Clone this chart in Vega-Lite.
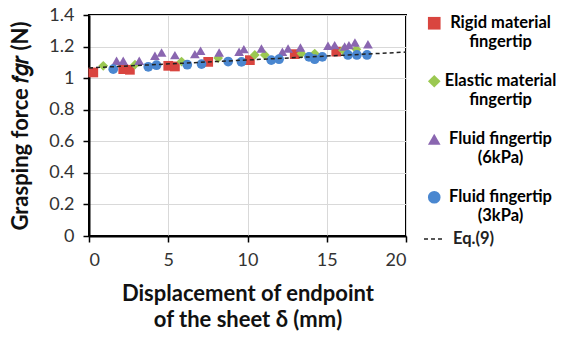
{
  "$schema": "https://vega.github.io/schema/vega-lite/v6.json",
  "width": 317,
  "height": 221,
  "autosize": {"type": "none"},
  "padding": {"left": 89, "top": 15, "right": 173, "bottom": 103},
  "background": "white",
  "config": {
    "font": "Lato",
    "view": {"stroke": "black", "strokeWidth": 2},
    "axis": {
      "domainColor": "black", "domainWidth": 2, "grid": true,
      "tickColor": "black", "tickWidth": 1.5, "tickSize": 6,
      "gridColor": "#d9d9d9", "gridWidth": 1, "labelOverlap": false,
      "labelFont": "Lato", "labelFontSize": 18, "labelColor": "#333",
      "titleFont": "Lato", "titleFontSize": 22, "titleFontWeight": "bold", "titleColor": "#111"
    }
  },
  "data": {"values": [
    {"s": "Rigid", "x": 0.27, "y": 1.036},
    {"s": "Rigid", "x": 2.16, "y": 1.057},
    {"s": "Rigid", "x": 2.58, "y": 1.053},
    {"s": "Rigid", "x": 5.0, "y": 1.078},
    {"s": "Rigid", "x": 5.42, "y": 1.074},
    {"s": "Rigid", "x": 7.52, "y": 1.103},
    {"s": "Rigid", "x": 10.15, "y": 1.114},
    {"s": "Rigid", "x": 12.98, "y": 1.152},
    {"s": "Rigid", "x": 15.6, "y": 1.168},
    {"s": "Elastic", "x": 0.9, "y": 1.078},
    {"s": "Elastic", "x": 2.9, "y": 1.085},
    {"s": "Elastic", "x": 5.84, "y": 1.105},
    {"s": "Elastic", "x": 8.15, "y": 1.127},
    {"s": "Elastic", "x": 10.46, "y": 1.147},
    {"s": "Elastic", "x": 11.09, "y": 1.147},
    {"s": "Elastic", "x": 13.4, "y": 1.156},
    {"s": "Elastic", "x": 14.24, "y": 1.156},
    {"s": "Elastic", "x": 16.02, "y": 1.177},
    {"s": "Elastic", "x": 16.87, "y": 1.183},
    {"s": "Fluid6", "x": 1.74, "y": 1.11},
    {"s": "Fluid6", "x": 2.16, "y": 1.11},
    {"s": "Fluid6", "x": 3.17, "y": 1.11},
    {"s": "Fluid6", "x": 4.16, "y": 1.142},
    {"s": "Fluid6", "x": 4.58, "y": 1.163},
    {"s": "Fluid6", "x": 5.42, "y": 1.146},
    {"s": "Fluid6", "x": 6.68, "y": 1.152},
    {"s": "Fluid6", "x": 7.04, "y": 1.173},
    {"s": "Fluid6", "x": 8.21, "y": 1.163},
    {"s": "Fluid6", "x": 9.47, "y": 1.167},
    {"s": "Fluid6", "x": 9.77, "y": 1.184},
    {"s": "Fluid6", "x": 10.88, "y": 1.188},
    {"s": "Fluid6", "x": 12.2, "y": 1.167},
    {"s": "Fluid6", "x": 12.56, "y": 1.188},
    {"s": "Fluid6", "x": 13.34, "y": 1.194},
    {"s": "Fluid6", "x": 15.08, "y": 1.205},
    {"s": "Fluid6", "x": 15.5, "y": 1.209},
    {"s": "Fluid6", "x": 16.13, "y": 1.2},
    {"s": "Fluid6", "x": 16.4, "y": 1.209},
    {"s": "Fluid6", "x": 16.78, "y": 1.226},
    {"s": "Fluid6", "x": 17.6, "y": 1.215},
    {"s": "Fluid3", "x": 1.53, "y": 1.057},
    {"s": "Fluid3", "x": 3.74, "y": 1.072},
    {"s": "Fluid3", "x": 4.26, "y": 1.082},
    {"s": "Fluid3", "x": 6.2, "y": 1.085},
    {"s": "Fluid3", "x": 7.1, "y": 1.089},
    {"s": "Fluid3", "x": 8.78, "y": 1.105},
    {"s": "Fluid3", "x": 9.62, "y": 1.103},
    {"s": "Fluid3", "x": 11.5, "y": 1.114},
    {"s": "Fluid3", "x": 11.99, "y": 1.12},
    {"s": "Fluid3", "x": 13.88, "y": 1.135},
    {"s": "Fluid3", "x": 14.24, "y": 1.12},
    {"s": "Fluid3", "x": 14.72, "y": 1.135},
    {"s": "Fluid3", "x": 16.34, "y": 1.147},
    {"s": "Fluid3", "x": 16.9, "y": 1.147},
    {"s": "Fluid3", "x": 17.54, "y": 1.147},
    {"s": "Eq.(9)", "x": 0, "y": 1.065},
    {"s": "Eq.(9)", "x": 20, "y": 1.165}
  ]},
  "encoding": {
    "x": {
      "field": "x", "type": "quantitative",
      "scale": {"domain": [0, 20], "nice": false},
      "axis": {"values": [0, 5, 10, 15, 20], "title": ["Displacement of endpoint", "of the sheet δ (mm)"], "titlePadding": 14, "titleLineHeight": 26, "labelPadding": 9}
    },
    "y": {
      "field": "y", "type": "quantitative",
      "scale": {"domain": [0, 1.4], "nice": false},
      "axis": {"values": [0, 0.2, 0.4, 0.6, 0.8, 1, 1.2, 1.4], "tickCount": 8, "labelOverlap": false, "format": "~g", "title": "Grasping force 𝑓𝑔𝑟 (N)", "titlePadding": 16, "labelPadding": 9}
    }
  },
  "layer": [
    {
      "transform": [{"filter": "datum.s !== 'Eq.(9)'"}],
      "mark": {"type": "point", "filled": true, "opacity": 1},
      "encoding": {
        "color": {
          "field": "s", "type": "nominal",
          "scale": {"domain": ["Rigid", "Elastic", "Fluid6", "Fluid3"], "range": ["#d9453f", "#9bc851", "#8a66b0", "#4a87d0"]},
          "legend": {
            "title": null, "orient": "none", "legendX": 337, "legendY": 0,
            "labelExpr": "datum.value === 'Rigid' ? ['Rigid material', 'fingertip'] : datum.value === 'Elastic' ? ['Elastic material', 'fingertip'] : datum.value === 'Fluid6' ? ['Fluid fingertip', '(6kPa)'] : ['Fluid fingertip', '(3kPa)']",
            "labelFont": "Lato", "labelFontSize": 16.5, "labelFontWeight": "bold",
            "labelAlign": "center", "labelOffset": 58, "labelLimit": 220,
            "rowPadding": 22, "symbolSize": 160,
            "encode": {
              "labels": {
                "update": {
                  "fill": {"signal": "datum.value === 'Rigid' ? '#b8322e' : datum.value === 'Elastic' ? '#86a83c' : datum.value === 'Fluid6' ? '#654b8c' : '#3b69a8'"}
                }
              }
            }
          }
        },
        "shape": {
          "field": "s", "type": "nominal",
          "scale": {"domain": ["Rigid", "Elastic", "Fluid6", "Fluid3"], "range": ["square", "diamond", "triangle-up", "circle"]},
          "legend": null
        },
        "size": {"value": 95}
      }
    },
    {
      "transform": [{"filter": "datum.s === 'Eq.(9)'"}],
      "mark": {"type": "line", "strokeWidth": 1.5, "color": "#222"},
      "encoding": {
        "strokeDash": {
          "field": "s", "type": "nominal",
          "scale": {"domain": ["Eq.(9)"], "range": [[4, 3]]},
          "legend": {
            "title": null, "orient": "none", "legendX": 334, "legendY": 213,
            "labelFont": "Lato", "labelFontSize": 16.5, "labelFontWeight": "bold", "labelColor": "#222",
            "labelOffset": 8, "symbolSize": 400, "symbolStrokeWidth": 1.5, "symbolStrokeColor": "#222"
          }
        }
      }
    }
  ]
}
